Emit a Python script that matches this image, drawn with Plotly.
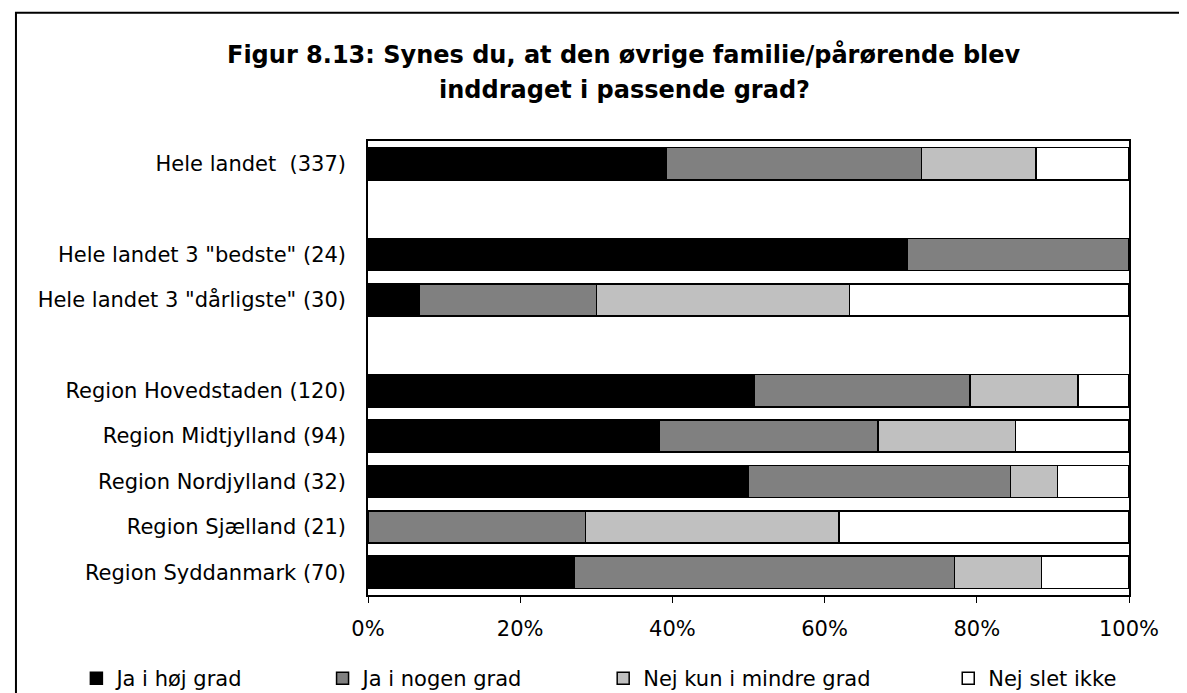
import plotly.graph_objects as go

categories = ["Hele landet\u00a0 (337)", " ", 'Hele landet 3 "bedste" (24)', 'Hele landet 3 "dårligste" (30)', "  ",
              "Region Hovedstaden (120)", "Region Midtjylland (94)", "Region Nordjylland (32)",
              "Region Sjælland (21)", "Region Syddanmark (70)"]
ja_hoj = [39.2, None, 70.8, 6.7, None, 50.8, 38.3, 50.0, 0.0, 27.1]
ja_nogen = [33.5, None, 29.2, 23.3, None, 28.3, 28.7, 34.4, 28.6, 50.0]
nej_mindre = [15.1, None, 0.0, 33.3, None, 14.2, 18.1, 6.2, 33.3, 11.4]
nej_slet = [12.2, None, 0.0, 36.7, None, 6.7, 14.9, 9.4, 38.1, 11.5]
series_names = ["Ja i høj grad", "Ja i nogen grad", "Nej kun i mindre grad", "Nej slet ikke"]
series_colors = ["#000000", "#808080", "#C0C0C0", "#FFFFFF"]
x_ticks = [0, 20, 40, 60, 80, 100]
x_ticktext = ["0%", "20%", "40%", "60%", "80%", "100%"]
title_lines = ["Figur 8.13: Synes du, at den øvrige familie/pårørende blev", "inddraget i passende grad?"]

FONT = "DejaVu Sans, Verdana, sans-serif"
W, H = 1187, 693
L, R, T, B = 359.5, 1121.5, 133.4, 586.6
PW, PH = R - L, B - T

def px_x(p):
    return (p - L) / PW

def px_y(p):
    return (B - p) / PH

fig = go.Figure()
legend_ids = ["legend", "legend2", "legend3", "legend4"]
for vals, name, col, lg in zip([ja_hoj, ja_nogen, nej_mindre, nej_slet], series_names, series_colors, legend_ids):
    fig.add_trace(go.Bar(
        y=categories, x=vals, name=name, orientation="h",
        marker=dict(color=col, line=dict(color="#000000", width=1.5)),
        width=0.71, legend=lg,
    ))

legend_px = [67.5, 314, 595, 940.5]
layout_legends = {}
for lg, lx in zip(legend_ids, legend_px):
    layout_legends[lg] = dict(
        x=px_x(lx), y=px_y(670), xanchor="left", yanchor="middle",
        orientation="h", font=dict(family=FONT, size=21, color="#000000"),
        bgcolor="rgba(0,0,0,0)", borderwidth=0, itemclick=False,
    )

fig.update_layout(
    width=W, height=H,
    margin=dict(l=L, r=W - R, t=T, b=H - B, autoexpand=False),
    paper_bgcolor="#FFFFFF", plot_bgcolor="#FFFFFF",
    barmode="stack", bargap=0.29,
    showlegend=True,
    **layout_legends,
    xaxis=dict(range=[0, 100], tickmode="array", tickvals=x_ticks, ticktext=x_ticktext,
               ticks="outside", ticklen=6,
               tickcolor="#000000", tickwidth=1, showgrid=False, zeroline=False,
               showline=True, linecolor="#000000", linewidth=1.5, mirror=True,
               tickfont=dict(family=FONT, size=21, color="#000000"), ticklabelstandoff=8),
    yaxis=dict(categoryorder="array", categoryarray=categories, autorange=False,
               range=[9.5, -0.5], ticks="", showgrid=False, zeroline=False,
               showline=True, linecolor="#000000", linewidth=1.5, mirror=True,
               tickfont=dict(family=FONT, size=21, color="#000000"), ticklabelstandoff=16),
    annotations=[
        dict(text="<b>" + title_lines[0] + "</b>", x=px_x(616), y=px_y(47), xref="paper", yref="paper",
             xanchor="center", yanchor="middle", showarrow=False,
             font=dict(family=FONT, size=24, color="#000000")),
        dict(text="<b>" + title_lines[1] + "</b>", x=px_x(616), y=px_y(82), xref="paper", yref="paper",
             xanchor="center", yanchor="middle", showarrow=False,
             font=dict(family=FONT, size=24, color="#000000")),
    ],
    shapes=[dict(type="rect", xref="paper", yref="paper",
                 x0=px_x(7), x1=px_x(1200), y0=px_y(720), y1=px_y(5.5),
                 line=dict(color="#000000", width=2), fillcolor="rgba(0,0,0,0)", layer="above")],
)

fig.write_html("out.html")
